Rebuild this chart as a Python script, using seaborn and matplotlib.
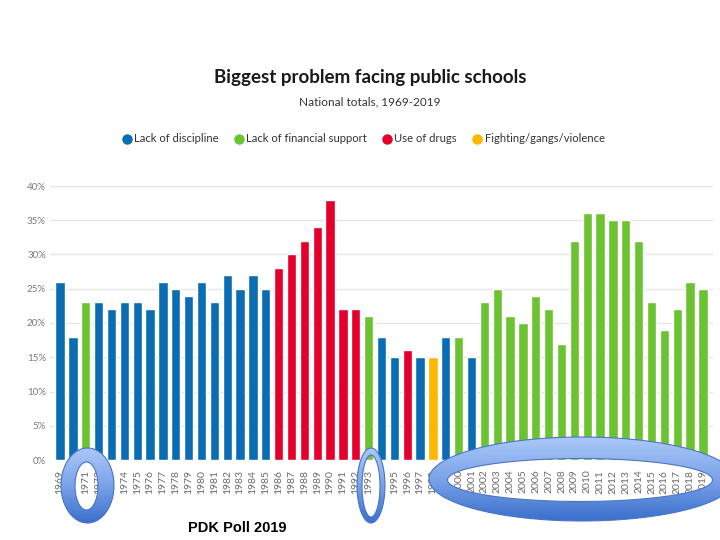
import numpy as np
import pandas as pd
import matplotlib
matplotlib.use("Agg")
import matplotlib.pyplot as plt
import seaborn as sns
from matplotlib.path import Path
from matplotlib.patches import PathPatch, Rectangle
from matplotlib.lines import Line2D
from matplotlib.colors import LinearSegmentedColormap

years = list(range(1969, 2020))
values = [26, 18, 23, 23, 22, 23, 23, 22, 26, 25, 24, 26, 23, 27, 25, 27, 25,
          28, 30, 32, 34, 38, 22, 22,
          21, 18, 15, 16, 15, 15, 18, 18, 15,
          23, 25, 21, 20, 24, 22, 17, 32, 36, 36, 35, 35, 32, 23, 19, 22, 26, 25]
D, F, U, V = ("Lack of discipline", "Lack of financial support",
              "Use of drugs", "Fighting/gangs/violence")
categories = ([D, D, F] + [D] * 14 + [U] * 7 +
              [F, D, D, U, D, V, D, F, D] + [F] * 18)
tick_labels = ["1969", "1970", "1971", "1972", "", "1974", "1975", "1976", "1977",
               "1978", "1979", "1980", "1981", "1982", "1983", "1984", "1985",
               "1986", "1987", "1988", "1989", "1990", "1991", "1992", "1993",
               "", "1995", "1996", "1997", "1998", "1999", "2000", "2001",
               "2002", "2003", "2004", "2005", "2006", "2007", "2008", "2009",
               "2010", "2011", "2012", "2013", "2014", "2015", "2016", "2017",
               "2018", "2019"]
legend_labels = [D, F, U, V]
colors = ["#0a6db3", "#6cc331", "#e4002b", "#fbb800"]

df = pd.DataFrame({"year": [str(y) for y in years], "value": values,
                   "category": categories})

sns.set_theme(style="white")
plt.rcParams["font.family"] = ["Lato", "DejaVu Sans"]

fig = plt.figure(figsize=(7.2, 5.4), dpi=100)
ax = fig.add_axes([50 / 720, 80 / 540, 663 / 720, 274 / 540])
sns.barplot(data=df, x="year", y="value", hue="category", hue_order=legend_labels,
            palette=dict(zip(legend_labels, colors)), dodge=False, width=0.72,
            legend=False, saturation=1, ax=ax)
ax.set_xlim(-0.78, len(years) - 1 + 0.78)
ax.set_ylim(0, 40)
ax.set_yticks(range(0, 41, 5))
ax.set_yticklabels([f"{v}%" for v in range(0, 41, 5)], fontsize=7, color="#7a7a7a")
ax.set_xticks(range(len(years)))
ax.set_xticklabels(tick_labels, rotation=90, fontsize=7.5, color="#6a6a6a")
ax.tick_params(axis="x", length=0, pad=7)
ax.tick_params(axis="y", length=0, pad=3)
ax.set_xlabel("")
ax.set_ylabel("")
ax.yaxis.grid(True, color="#e6e6e6", lw=1)
ax.xaxis.grid(False)
ax.set_axisbelow(True)
for s in ax.spines.values():
    s.set_visible(False)

fig.text(370 / 720, 1 - 77 / 540, "Biggest problem facing public schools",
         ha="center", va="center", fontsize=13.5, fontweight="bold", color="#1a1a1a")
fig.text(370 / 720, 1 - 102 / 540, "National totals, 1969-2019",
         ha="center", va="center", fontsize=8.5, color="#333333")

handles = [Line2D([0], [0], marker="o", linestyle="", markersize=6.5,
                  markerfacecolor=c, markeredgecolor=c) for c in colors]
fig.legend(handles, legend_labels, loc="center", bbox_to_anchor=(364 / 720, 1 - 139 / 540),
           ncol=4, frameon=False, fontsize=8.1, handlelength=0.6, handletextpad=0.35,
           columnspacing=1.5, labelcolor="#333333")

fig.text(237 / 720, 1 - 528 / 540, "PDK Poll 2019", ha="center", va="center",
         fontsize=10.5, fontweight="bold", color="#000000",
         family=["Liberation Sans", "DejaVu Sans"])

# overlay annotation rings (pixel coordinates)
ov = fig.add_axes([0, 0, 1, 1], zorder=10)
ov.set_xlim(0, 720)
ov.set_ylim(540, 0)
ov.axis("off")
ov.patch.set_alpha(0)
cmap = LinearSegmentedColormap.from_list("ring", ["#aac7f7", "#7aa3e8", "#3c70cc"])


def ring(cx, cy, wo, ho, ci, wi, hi, nb=40):
    t = np.linspace(0, 2 * np.pi, 240)
    ox = cx + wo / 2 * np.cos(t)
    oy = cy + ho / 2 * np.sin(t)
    ix = ci[0] + wi / 2 * np.cos(t[::-1])
    iy = ci[1] + hi / 2 * np.sin(t[::-1])
    verts = np.concatenate([np.column_stack([ox, oy]), np.column_stack([ix, iy])])
    codes = np.full(len(verts), Path.LINETO)
    codes[0] = Path.MOVETO
    codes[len(t)] = Path.MOVETO
    path = Path(verts, codes)
    top = cy - ho / 2
    step = ho / nb
    for k in range(nb):
        band = Rectangle((cx - wo / 2 - 2, top + k * step - 0.3), wo + 4, step + 0.6,
                         transform=ov.transData, facecolor="none", edgecolor="none")
        p = PathPatch(path, facecolor=cmap(k / (nb - 1)), edgecolor="none", lw=0)
        ov.add_patch(p)
        p.set_clip_path(band)
    ov.add_patch(PathPatch(path, facecolor="none", edgecolor="#4b76c4", lw=0.8))


ring(87.5, 485.5, 53, 75, (86.5, 486), 23, 48)
ring(371, 485.5, 28, 75, (371, 486), 18, 62)
ring(582, 479, 306, 84, (580, 480), 265, 43)

fig.savefig("out.png", dpi=100)
